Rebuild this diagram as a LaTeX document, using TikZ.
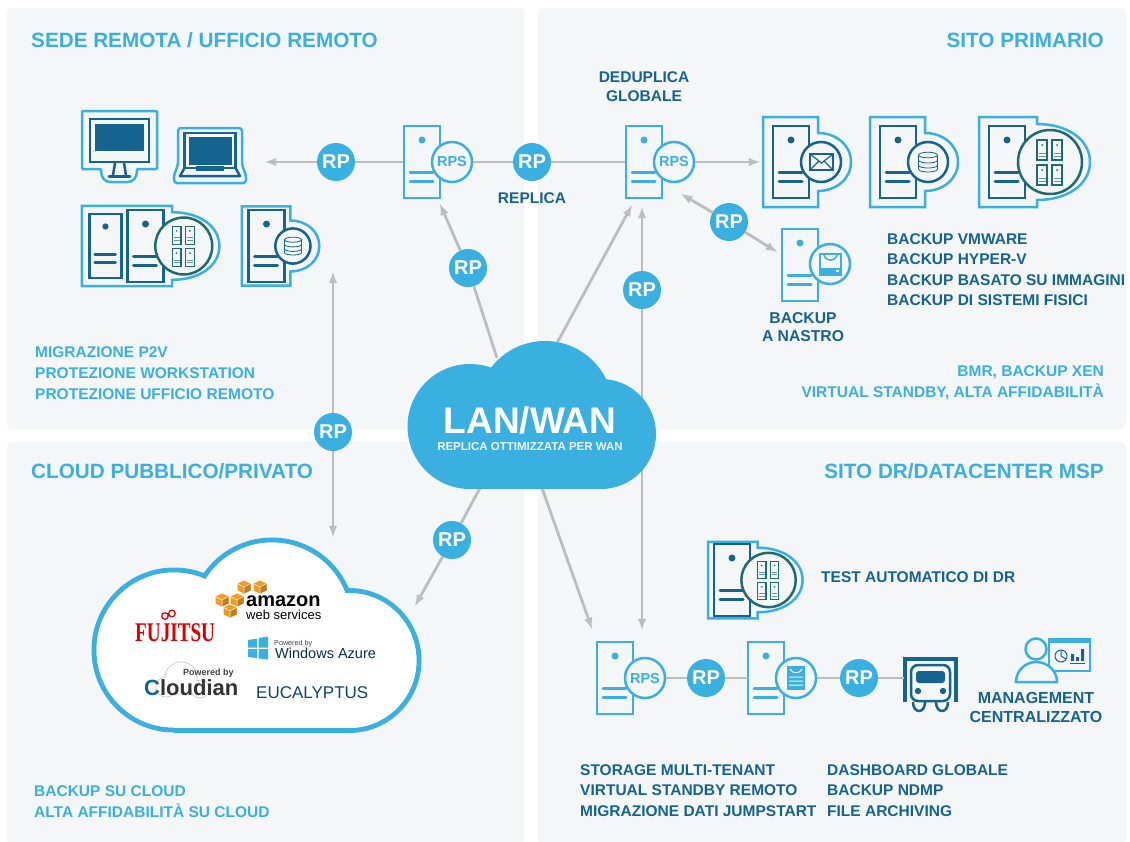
\documentclass[tikz,border=0pt]{standalone}
\usepackage{fontspec}
\usepackage{graphicx}
\setmainfont{Liberation Sans}
\newfontfamily\fujitsufont{Liberation Serif}
\definecolor{rpblue}{HTML}{3AB0E0}
\definecolor{srvdark}{HTML}{14648F}
\definecolor{srvteal}{HTML}{1F6B70}
\definecolor{panelgrey}{HTML}{F4F6F8}
\definecolor{linkgrey}{HTML}{BDBDBD}
\definecolor{awsorange}{HTML}{F59B23}
\tikzset{
	panel/.style={fill=panelgrey, rounded corners=5pt},
	rp/.style={circle, fill=rpblue, text=white, minimum size=38pt, inner sep=0pt, font=\bfseries\fontsize{20}{20}\selectfont},
	rps/.style={circle, draw=rpblue, line width=2.5pt, fill=panelgrey, text=rpblue, minimum size=40pt, inner sep=0pt, font=\bfseries\fontsize{14.5}{14.5}\selectfont},
	link/.style={draw=linkgrey, line width=2.8pt},
	title/.style={text=rpblue, inner sep=0pt, font=\bfseries\fontsize{20.7}{20.7}\selectfont},
	lbl/.style={text=srvdark, inner sep=0pt, font=\bfseries\fontsize{15.5}{20.5}\selectfont},
	lbllight/.style={text=rpblue, inner sep=0pt, font=\bfseries\fontsize{15.5}{21}\selectfont},
	pics/srv/.style={code={
		\draw[#1, line width=2.5pt, fill=panelgrey] (-18,-36) rectangle (18,36);
		\fill[#1] (0,-22) circle[radius=3.5];
		\draw[#1, line width=3pt, line cap=round] (-12,10) -- (11,10) (-12,19) -- (11,19);
	}},
	pics/smallframe/.style={code={
		\draw[rpblue, line width=2.5pt, fill=panelgrey] (-28,-45) -- (27,-45) -- (27,-29) .. controls (45,-29) and (60,-17) .. (60,0) .. controls (60,17) and (45,29) .. (27,29) -- (27,45) -- (-28,45) -- cycle;
		\pic at (0,0) {srv=srvdark};
		\draw[srvdark, line width=2.5pt, fill=panelgrey] (30,0) circle[radius=20];
	}},
	pics/bigframe/.style={code={
		\draw[rpblue, line width=2.5pt, fill=panelgrey] (#1,-45) -- (30,-45) -- (30,-38) .. controls (61,-38) and (83,-22) .. (83,0) .. controls (83,22) and (61,38) .. (30,38) -- (30,45) -- (#1,45) -- cycle;
		\pic at (0,0) {srv=srvdark};
		\draw[srvteal, line width=2.5pt, fill=panelgrey] (43,0) circle[radius=32];
		\foreach \ax/\ay in {35/-12, 50/-12, 35/13, 50/13} {
			\draw[srvteal, line width=1.3pt] (\ax-5,\ay-10) rectangle (\ax+5,\ay+10);
			\fill[srvteal] (\ax,\ay-5) circle[radius=1];
			\draw[srvteal!70, line width=1pt] (\ax-3.5,\ay+3) -- (\ax+3.5,\ay+3) (\ax-3.5,\ay+6) -- (\ax+3.5,\ay+6);
		}
	}},
	pics/dbicon/.style={code={
		\draw[srvdark, line width=.8pt, fill=panelgrey] (-9.5,-7) -- (-9.5,7) .. controls (-9.5,11) and (9.5,11) .. (9.5,7) -- (9.5,-7);
		\draw[srvdark, line width=.8pt] (0,-7) ellipse[x radius=9.5, y radius=2.8];
		\draw[srvdark, line width=.8pt] (-9.5,-2) .. controls (-9.5,2) and (9.5,2) .. (9.5,-2) (-9.5,3) .. controls (-9.5,7) and (9.5,7) .. (9.5,3);
	}},
	pics/cube/.style={code={
		\fill[awsorange] (0,-6.5) -- (6.5,-3.5) -- (6.5,3.5) -- (0,6.5) -- (-6.5,3.5) -- (-6.5,-3.5) -- cycle;
		\fill[awsorange!80!black] (0,0) -- (6.5,-3.5) -- (6.5,3.5) -- (0,6.5) -- cycle;
		\draw[white, line width=.5pt] (-6.5,-3.5) -- (0,0) -- (6.5,-3.5) (0,0) -- (0,6.5);
	}},
}

\begin{document}
\begin{tikzpicture}[x=1pt, y=-1pt]
	\useasboundingbox (0,0) rectangle (1130,841);
	\fill[white] (0,0) rectangle (1130,841);
	\fill[panel] (7,8) rectangle (524,429);
	\fill[panel] (538,8) rectangle (1126,429);
	\fill[panel] (7,442) rectangle (524,845);
	\fill[panel] (538,442) rectangle (1126,845);

	\node[title, anchor=base west] (sede) at (31,47) {SEDE REMOTA / UFFICIO REMOTO};
	\node[title, anchor=base east] (primario) at (1104,47) {SITO PRIMARIO};
	\node[title, anchor=base west] (pubblico) at (31,478) {CLOUD PUBBLICO/PRIVATO};
	\node[title, anchor=base east] (msp) at (1104,478) {SITO DR/DATACENTER MSP};

	\draw[rpblue, line width=2.5pt, fill=panelgrey, rounded corners=1pt] (82,111) -- (157,111) -- (157,169) -- (137,169) .. controls (137,178) and (133,182) .. (127,182) -- (111,182) .. controls (105,182) and (101,178) .. (101,169) -- (82,169) -- cycle;
	\draw[srvdark, line width=2.8pt] (90,119) rectangle (149,162);
	\fill[srvdark] (95,124) rectangle (144,151);
	\draw[srvdark, line width=2.5pt] (115,163) -- (113,175) (124,163) -- (126,175);
	\draw[srvdark, line width=3pt, line cap=round] (109,176) -- (130,176);
	\draw[rpblue, line width=2.5pt, fill=panelgrey, rounded corners=3pt] (178,128) -- (242,128) -- (242,165) -- (246,175) -- (246,183) -- (174,183) -- (174,175) -- (178,165) -- cycle;
	\draw[srvdark, line width=2.5pt] (184.5,133) rectangle (235.5,168);
	\fill[srvdark] (189,137) rectangle (232,165);
	\draw[srvdark, line width=2.5pt, line join=round] (184.5,168) -- (180,176) -- (240,176) -- (235.5,168);
	\fill[srvdark] (196,166) rectangle (224,171);

	\pic at (145.5,246) [scale=.89] {bigframe=-71.5};
	\pic at (105.5,246) [scale=.89] {srv=srvdark};
	\pic at (266.5,246) [scale=.88] {smallframe};
	\pic at (293,246) [scale=.9] {dbicon};

	\pic at (422,162) {srv=rpblue};
	\pic at (644,162) {srv=rpblue};
	\pic at (800,265) {srv=rpblue};
	\pic at (615,678) {srv=rpblue};
	\pic at (766,678) {srv=rpblue};
	\node[rps] (rpsa) at (452,162) {RPS};
	\node[rps] (rpsb) at (674,162) {RPS};
	\node[rps] (rpsc) at (645,678) {RPS};
	\node[rps] (tapea) at (830,264) {};
	\node[rps] (tapeb) at (796,678) {};
	\draw[rpblue, line width=1.8pt] (820,254) rectangle (841,275);
	\draw[rpblue, line width=1.5pt] (824,255) .. controls (826,262) and (835,262) .. (837,255);
	\fill[rpblue] (820,268) rectangle (841,275);
	\fill[panelgrey] (836,270) rectangle (839,272);
	\fill[rpblue] (787,666) rectangle (805,690);
	\draw[panelgrey, line width=1pt] (790,669) .. controls (792,674) and (800,674) .. (802,669) (789,677) -- (803,677) (789,681) -- (803,681) (789,685) -- (803,685);

	\pic at (791,162) {smallframe};
	\draw[srvdark, line width=2pt, fill=panelgrey] (810,154) rectangle (833,170);
	\draw[srvdark, line width=1.2pt] (810,154) -- (821.5,163) -- (833,154) (810,170) -- (819,161) (833,170) -- (824,161);
	\pic at (898,162) {smallframe};
	\pic at (928,162) {dbicon};
	\pic at (1007,162) {bigframe=-28};
	\pic at (732,580) [scale=.85] {bigframe=-28};

	\draw[srvdark, line width=4pt] (905,702) -- (905,659) -- (956,659) -- (956,702);
	\draw[srvdark, line width=2.5pt, fill=panelgrey, rounded corners=7pt] (911,701) -- (911,665) -- (950,665) -- (950,701) -- cycle;
	\fill[srvdark, rounded corners=3pt] (916,683) -- (916,671) -- (945,671) -- (945,683) -- cycle;
	\fill[srvdark] (918,691) circle[radius=3.2] (943,691) circle[radius=3.2];
	\draw[srvdark, line width=2.5pt] (913,702) .. controls (913,714) and (925,714) .. (925,702) (936,702) .. controls (936,714) and (948,714) .. (948,702);

	\draw[rpblue, line width=2pt, fill=panelgrey] (1049,639) rectangle (1090,671);
	\fill[rpblue] (1049,638) rectangle (1090,643);
	\draw[srvdark, line width=1pt] (1061,656) circle[radius=6] (1061,656) -- (1061,650) (1061,656) -- (1066,659);
	\fill[srvdark] (1071,654) rectangle (1074,661) (1076,657) rectangle (1079,661) (1081,649) rectangle (1084,661);
	\draw[srvdark, line width=1pt] (1070,663) -- (1085,663);
	\draw[rpblue, line width=2.5pt, fill=panelgrey] (1016,682) .. controls (1016,670) and (1026,662) .. (1036,662) .. controls (1047,662) and (1057,670) .. (1057,682) -- cycle;
	\draw[rpblue, line width=2.5pt, fill=panelgrey] (1036,649) circle[radius=10.5];

	\node[rp] (rpa) at (336,162) {RP};
	\node[rp] (rpb) at (532,162) {RP};
	\node[rp] (rpc) at (468,268) {RP};
	\node[rp] (rpd) at (642,290) {RP};
	\node[rp] (rpe) at (729,222) {RP};
	\node[rp] (rpf) at (333,432) {RP};
	\node[rp] (rpg) at (452,540) {RP};
	\node[rp] (rph) at (706,678) {RP};
	\node[rp] (rpi) at (859,678) {RP};

	\coordinate (pcend) at (265,162);
	\coordinate (srvain) at (403,162);
	\coordinate (srvbin) at (625,162);
	\coordinate (mailin) at (760,162);
	\coordinate (srvatip) at (440,204);
	\coordinate (lanb) at (497,358);
	\coordinate (lanc) at (557,343);
	\coordinate (srvbtip) at (632,205);
	\coordinate (srvbbot) at (642,207);
	\coordinate (srvcin) at (642,630);
	\coordinate (tapetip) at (681,194);
	\coordinate (tapein) at (777,252);
	\coordinate (dbend) at (333,272);
	\coordinate (cloudtop) at (333,537);
	\coordinate (lana) at (480,488);
	\coordinate (cloudin) at (415,606);
	\coordinate (land) at (542,488);
	\coordinate (srvcleft) at (592,629);
	\coordinate (srvdin) at (748,678);
	\coordinate (truckin) at (904,678);

	\draw[link, -latex] (rpa) -- (pcend);
	\draw[link] (rpa) -- (srvain);
	\draw[link] (rpsa) -- (rpb);
	\draw[link] (rpb) -- (srvbin);
	\draw[link, -latex] (rpsb) -- (mailin);
	\draw[link, -latex] (rpc) -- (srvatip);
	\draw[link] (rpc) -- (lanb);
	\draw[link, -latex] (lanc) -- (srvbtip);
	\draw[link, -latex] (rpd) -- (srvbbot);
	\draw[link, -latex] (rpd) -- (srvcin);
	\draw[link, -latex] (rpe) -- (tapetip);
	\draw[link, -latex] (rpe) -- (tapein);
	\draw[link, -latex] (rpf) -- (dbend);
	\draw[link, -latex] (rpf) -- (cloudtop);
	\draw[link] (lana) -- (rpg);
	\draw[link, -latex] (rpg) -- (cloudin);
	\draw[link, -latex] (land) -- (srvcleft);
	\draw[link] (rpsc) -- (rph);
	\draw[link] (rph) -- (srvdin);
	\draw[link] (tapeb) -- (rpi);
	\draw[link] (rpi) -- (truckin);

	\fill[rpblue] (470,426.5) circle[radius=62.5];
	\fill[rpblue] (545,409) circle[radius=68];
	\fill[rpblue] (601,434) circle[radius=55];
	\fill[rpblue] (470,426) rectangle (601,489);
	\node[text=white, inner sep=0pt, font=\bfseries\fontsize{37}{37}\selectfont] (lan) at (530,420) {LAN/WAN};
	\node[text=white!90!rpblue, inner sep=0pt, font=\bfseries\fontsize{11.5}{11.5}\selectfont] (lanlbl) at (530,447) {REPLICA OTTIMIZZATA PER WAN};

	\draw[rpblue, line width=5pt] (174,650) circle[radius=80] (272,621) circle[radius=81] (349,660.5) circle[radius=70] (174,730.5) -- (349,730.5);
	\fill[white] (174,650) circle[radius=77.5];
	\fill[white] (272,621) circle[radius=78.5];
	\fill[white] (349,660.5) circle[radius=67.5];
	\fill[white] (174,620) rectangle (349,728);

	\foreach \cx/\cy in {244/587, 260/587, 222/600, 237/600, 230/611} {
		\pic at (\cx,\cy) {cube};
	}
	\node[anchor=base west, inner sep=0pt, font=\bfseries\fontsize{20}{20}\selectfont] (amazon) at (246,606) {amazon};
	\node[anchor=base west, inner sep=0pt, font=\fontsize{13}{13}\selectfont] (aws) at (246,619) {web services};
	\draw[red!85!black, line width=1.2pt] (165,616) circle[radius=3.3] (172,613.5) circle[radius=3.3];
	\node[anchor=base west, text=red!85!black, inner sep=0pt, font=\fujitsufont\bfseries\fontsize{27}{27}\selectfont] (fujitsu) at (135,641) {\scalebox{.71}[1]{FUJITSU}};
	\fill[rpblue] (248,640) -- (257,638.5) -- (257,647.5) -- (248,647.5) -- cycle;
	\fill[rpblue] (258.5,638) -- (268,636.5) -- (268,647.5) -- (258.5,647.5) -- cycle;
	\fill[rpblue] (248,649) -- (257,649) -- (257,658) -- (248,657) -- cycle;
	\fill[rpblue] (258.5,649) -- (268,649) -- (268,659.5) -- (258.5,658.5) -- cycle;
	\node[anchor=base west, text=black!75, inner sep=0pt, font=\fontsize{7.2}{7.2}\selectfont] (pwdaz) at (274,645) {Powered by};
	\node[anchor=base west, text=srvdark!50!black, inner sep=0pt, font=\fontsize{14.5}{14.5}\selectfont] (azure) at (275,658) {Windows Azure};
	\draw[black!20, line width=1pt] (166,687) circle[radius=10] (181,678) circle[radius=16] (200,689) circle[radius=9];
	\fill[white] (166,687) circle[radius=9.5];
	\fill[white] (181,678) circle[radius=15.5];
	\fill[white] (200,689) circle[radius=8.5];
	\node[anchor=base west, text=black!75, inner sep=0pt, font=\bfseries\fontsize{9}{9}\selectfont] (pwdcl) at (183,675) {Powered by};
	\node[anchor=base west, text=black!80, inner sep=0pt, font=\bfseries\fontsize{22}{22}\selectfont] (cloudian) at (144,695) {\textcolor{srvdark}{C}loudian};
	\node[anchor=base west, text=srvdark!70!black, inner sep=0pt, font=\fontsize{17}{17}\selectfont] (eucalyptus) at (256,698) {EUCALYPTUS};

	\node[lbl, anchor=north, align=center, font=\bfseries\fontsize{15.5}{19}\selectfont] (dedup) at (644,71) {DEDUPLICA\\GLOBALE};
	\node[lbl] (replica) at (532,198) {REPLICA};
	\node[lbl, anchor=north, align=center, font=\bfseries\fontsize{15.7}{18}\selectfont] (nastro) at (803,312) {BACKUP\\A NASTRO};
	\node[lbl, anchor=north west, align=left] (backups) at (887,233) {BACKUP VMWARE\\BACKUP HYPER-V\\BACKUP BASATO SU IMMAGINI\\BACKUP DI SISTEMI FISICI};
	\node[lbllight, anchor=north east, align=right] (bmr) at (1104,365) {BMR, BACKUP XEN\\VIRTUAL STANDBY, ALTA AFFIDABILITÀ};
	\node[lbllight, anchor=north west, align=left] (migra) at (35,346) {MIGRAZIONE P2V\\PROTEZIONE WORKSTATION\\PROTEZIONE UFFICIO REMOTO};
	\node[lbllight, anchor=north west, align=left] (cloudlbl) at (34,785) {BACKUP SU CLOUD\\ALTA AFFIDABILITÀ SU CLOUD};
	\node[lbl, anchor=west] (testdr) at (821,577) {TEST AUTOMATICO DI DR};
	\node[lbl, anchor=north, align=center, font=\bfseries\fontsize{16}{19}\selectfont] (mgmt) at (1036,692) {MANAGEMENT\\CENTRALIZZATO};
	\node[lbl, anchor=north west, align=left] (storage) at (580,764) {STORAGE MULTI-TENANT\\VIRTUAL STANDBY REMOTO\\MIGRAZIONE DATI JUMPSTART};
	\node[lbl, anchor=north west, align=left] (dash) at (827,764) {DASHBOARD GLOBALE\\BACKUP NDMP\\FILE ARCHIVING};
\end{tikzpicture}
\end{document}
